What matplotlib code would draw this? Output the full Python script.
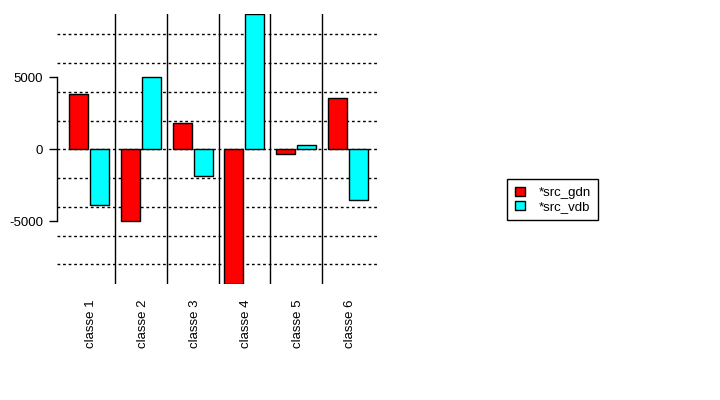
import numpy as np
import matplotlib.pyplot as plt
import matplotlib.transforms as mtransforms

plt.rcParams['font.family'] = ['Liberation Sans', 'DejaVu Sans']

classes = ['classe 1', 'classe 2', 'classe 3', 'classe 4', 'classe 5', 'classe 6']
src_gdn = [3820, -5000, 1800, -9380, -300, 3540]
src_vdb = [-3890, 5000, -1850, 9380, 280, -3540]
series_names = ['*src_gdn', '*src_vdb']
grid_levels = [-8000, -6000, -4000, -2000, 0, 2000, 4000, 6000, 8000]
y_ticks = [-5000, 0, 5000]

fig = plt.figure(figsize=(7.2, 4.0), dpi=100)
ax = fig.add_axes([57.3 / 720, 1 - 284.3 / 400, 322 / 720, 270 / 400])

x = np.arange(1, len(classes) + 1)
off = 0.203
w = 0.368
b1 = ax.bar(x - off, src_gdn, w, color='red', edgecolor='black', linewidth=1, zorder=3)
b2 = ax.bar(x + off, src_vdb, w, color='cyan', edgecolor='black', linewidth=1, zorder=3)

for g in grid_levels:
    ax.axhline(g, color='black', linestyle=(0, (2, 2)), linewidth=1, zorder=1)
for s in x[:-1] + 0.5:
    ax.axvline(s, color='black', linewidth=1, zorder=2)

ax.set_xlim(0.381, 6.609)
ax.set_ylim(-9380, 9380)

for side in ['top', 'right', 'bottom']:
    ax.spines[side].set_visible(False)
ax.spines['left'].set_bounds(-5000, 5000)
ax.spines['left'].set_linewidth(1)
ax.set_yticks(y_ticks)
ax.set_yticklabels([str(v) for v in y_ticks], fontsize=9.5)
ax.tick_params(axis='y', length=5.8, width=1, pad=4.5)

ax.set_xticks(x)
ax.set_xticklabels(classes, rotation=90, fontsize=9.5, va='top', ha='center')
ax.tick_params(axis='x', length=0, pad=11)
shift = mtransforms.ScaledTranslation(2 / 100, 0, fig.dpi_scale_trans)
for lbl in ax.get_xticklabels():
    lbl.set_transform(lbl.get_transform() + shift)

leg = fig.legend([b1, b2], series_names, loc='upper left', bbox_to_anchor=(507.3 / 720, 1 - 179.3 / 400),
                 borderaxespad=0, fancybox=False, edgecolor='black', framealpha=1, fontsize=9.5,
                 handlelength=0.8, handleheight=0.7, handletextpad=1.0, borderpad=0.55,
                 labelspacing=0.15)
leg.get_frame().set_linewidth(1)

fig.savefig('out.png', dpi=100)
